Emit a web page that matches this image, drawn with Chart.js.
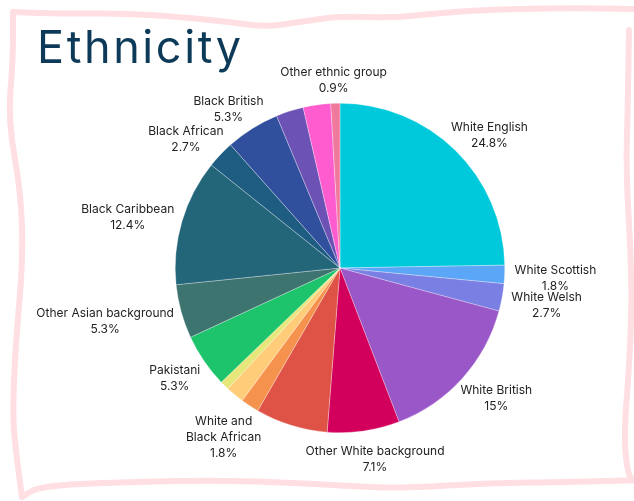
<!DOCTYPE html>
<html>
<head>
<meta charset="utf-8">
<script src="https://cdn.jsdelivr.net/npm/chart.js@4"></script>
<style>
  html, body { margin: 0; padding: 0; background: #fff; }
  #wrap { position: relative; width: 634px; height: 501px; }
  #title { position: absolute; left: 37px; top: 19px; margin: 0; font: 400 45px Inter, sans-serif; color: #0d3a58; letter-spacing: 2.6px; }
</style>
</head>
<body>
<div id="wrap">
  <canvas id="chartEtnia" width="634" height="501"></canvas>
  <h1 id="title">Ethnicity</h1>
</div>
<script>
const categorias = ['White English', 'White Scottish', 'White Welsh', 'White British', 'Other White background',
  'White and Black Caribbean', ['White and', 'Black African'], 'White and Asian', 'Other Mixed background',
  'Pakistani', 'Other Asian background', 'Black Caribbean', 'Black African', 'Black British',
  'Other Black background', 'Chinese', 'Other ethnic group'];
const porcentajes = [24.8, 1.8, 2.7, 15, 7.1, 7.1, 1.8, 1.8, 0.9, 5.3, 5.3, 12.4, 2.7, 5.3, 2.7, 2.7, 0.9];
const mostrarEtiqueta = [true, true, true, true, true, false, true, false, false, true, true, true, true, true, false, false, true];
const colores = ['#00c9db', '#5ba6f6', '#7a7fe4', '#9a57c8', '#d2005c', '#df5246', '#f5924e', '#ffcc7a', '#e6e67a',
  '#1dc46b', '#3e7470', '#236579', '#1e5c82', '#30509e', '#6d52b6', '#ff5cd0', '#f07a9e'];

// wavy pink frame drawn behind the chart
const marco = {
  id: 'marco',
  beforeDraw(chart) {
    const c = chart.ctx;
    const arriba = [[13,12],[60,14],[120,13],[180,17],[230,22],[265,27],[300,22],[340,16],[390,18],[430,14],[480,10],[560,8],[640,9]];
    const der = [[629,30],[628,100],[626,170],[630,240],[632,300],[629,370],[624,433],[627,470],[632,480]];
    const abajo = [[640,480],[570,482],[490,483],[405,488],[365,487],[243,480],[121,482],[40,486],[22,497]];
    const izq = [[22,497],[14,440],[13,400],[16,340],[23,260],[21,193],[8,120],[13,60],[13,12]];
    c.save();
    c.strokeStyle = '#ffdfe1';
    c.lineWidth = 6;
    c.lineCap = 'round';
    c.lineJoin = 'round';
    [arriba, der, abajo, izq].forEach(p => {
      c.beginPath();
      c.moveTo(p[0][0], p[0][1]);
      for (let i = 1; i < p.length - 1; i++) {
        const mx = (p[i][0] + p[i + 1][0]) / 2, my = (p[i][1] + p[i + 1][1]) / 2;
        c.quadraticCurveTo(p[i][0], p[i][1], mx, my);
      }
      c.lineTo(p[p.length - 1][0], p[p.length - 1][1]);
      c.stroke();
    });
    c.restore();
  }
};

// labels outside each slice
const etiquetas = {
  id: 'etiquetas',
  afterDatasetsDraw(chart) {
    const c = chart.ctx;
    const meta = chart.getDatasetMeta(0);
    c.save();
    c.font = '12px Inter, sans-serif';
    c.fillStyle = '#222';
    c.textAlign = 'center';
    c.textBaseline = 'middle';
    const lh = 16;
    meta.data.forEach((arc, i) => {
      if (!mostrarEtiqueta[i]) return;
      const nombre = categorias[i];
      const lineas = (Array.isArray(nombre) ? nombre : [nombre]).concat([porcentajes[i] + '%']);
      const w = Math.max(...lineas.map(t => c.measureText(t).width));
      const h = lineas.length * lh;
      const ang = (arc.startAngle + arc.endAngle) / 2;
      const vx = Math.cos(ang), vy = Math.sin(ang);
      const d = arc.outerRadius + 10;
      const cx = arc.x + d * vx + vx * w / 2;
      const cy = arc.y + d * vy + vy * h / 2 + 3;
      lineas.forEach((t, k) => c.fillText(t, cx, cy - h / 2 + lh / 2 + k * lh));
    });
    c.restore();
  }
};

const ctx = document.getElementById('chartEtnia');

new Chart(ctx, {
  type: 'pie',
  data: {
    labels: categorias,
    datasets: [{
      label: 'Ethnicity',
      data: porcentajes,
      backgroundColor: colores,
      borderColor: 'rgba(255,255,255,0.6)',
      borderWidth: 0.5
    }]
  },
  options: {
    responsive: false,
    animation: false,
    layout: { padding: { left: 175, right: 129, top: 103, bottom: 68 } },
    plugins: {
      legend: { display: false },
      tooltip: { enabled: false }
    }
  },
  plugins: [marco, etiquetas]
});
</script>
</body>
</html>
